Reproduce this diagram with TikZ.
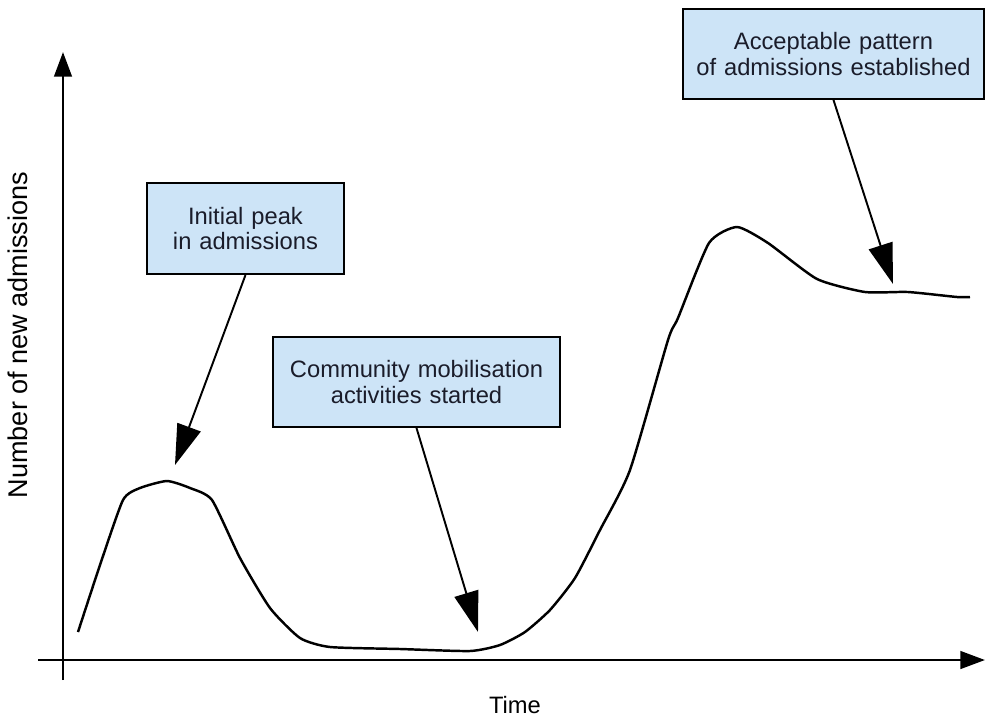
\documentclass[tikz,border=0pt]{standalone}
\usepackage{fontspec}
\setmainfont{Liberation Sans}
\usetikzlibrary{arrows.meta}
\definecolor{boxblue}{HTML}{CDE4F7}
\definecolor{boxtext}{HTML}{1A1C2A}
\tikzset{
	note/.style={draw=black,line width=1.1pt,fill=boxblue,text=boxtext,align=center,inner sep=0pt,font=\fontsize{13.5}{14.5}\selectfont},
	pointer/.style={line width=1.1pt,-{Triangle[length=23pt,width=14pt]}},
	axis/.style={line width=1.5pt,-{Triangle[length=14pt,width=10pt]}}
}
\begin{document}
\begin{tikzpicture}[x=0.02cm,y=-0.02cm]
		\useasboundingbox (0,0) rectangle (985,718);
		% axes
		\coordinate (ybot) at (63,680);
		\coordinate (ytop) at (63,52);
		\coordinate (xleft) at (38,660);
		\coordinate (xright) at (985,660);
		\draw[axis] (ybot) -- (ytop);
		\draw[axis] (xleft) -- (xright);
		\node[font=\fontsize{13.5}{14.5}\selectfont] (time) at (515,705) {Time};
		\node[font=\fontsize{15.4}{16}\selectfont,rotate=90] (count) at (18,335) {Number of new admissions};
		% admissions curve
		\draw[line width=1.4pt,line join=round] plot[smooth,tension=0.35] coordinates {(78,632) (100,565) (123,500) (140,488) (167,481) (190,488) (212,500) (240,558) (270,608) (300,638) (330,647) (400,649) (470,651) (500,645) (525,632) (550,610) (575,578) (600,530) (630,470) (668,340) (678,318) (709,243) (737,227) (768,243) (817,279) (865,292) (908,292) (957,297) (970,297)};
		% notes
		\node[note,text width=197*0.02cm,minimum height=91*0.02cm] (peak) at (245.5,228.5) {Initial peak\\in admissions};
		\node[note,text width=287*0.02cm,minimum height=90*0.02cm] (mobil) at (416.5,382) {Community mobilisation\\activities started};
		\node[note,text width=301*0.02cm,minimum height=90*0.02cm] (accept) at (833.5,54) {Acceptable pattern\\of admissions established};
		\coordinate (peaktip) at (175,465);
		\coordinate (mobiltip) at (478,632);
		\coordinate (accepttip) at (893,284);
		\draw[pointer] (peak.south) -- (peaktip);
		\draw[pointer] (mobil.south) -- (mobiltip);
		\draw[pointer] (accept.south) -- (accepttip);
\end{tikzpicture}
\end{document}
